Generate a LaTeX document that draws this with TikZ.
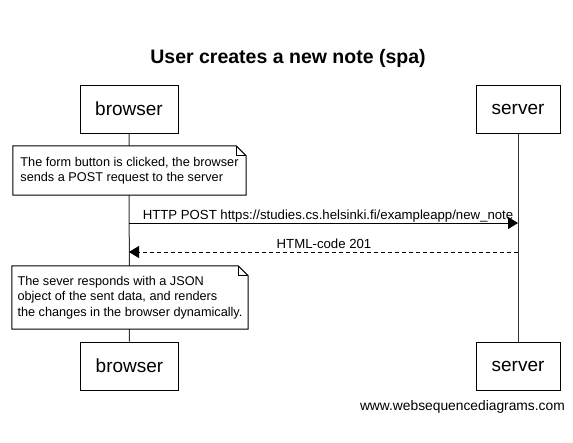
\documentclass[tikz,border=0pt]{standalone}
\usepackage{fontspec}
\setmainfont{Liberation Sans}
\usetikzlibrary{arrows.meta}
\tikzset{
  actor/.style={draw=black, line width=1pt, fill=white, minimum width=98pt, minimum height=48pt, inner sep=0pt, font=\fontsize{19}{22}\selectfont},
  notebox/.style={draw=none, fill=white, inner sep=0pt, align=left, font=\fontsize{12.7}{15.3}\selectfont},
  lifeline/.style={line width=1pt, draw=black!80},
  msg/.style={line width=1pt, -{Triangle[length=10pt,width=12pt]}},
  reply/.style={line width=1pt, dash pattern=on 4pt off 3pt, -{Triangle[length=10pt,width=12pt]}},
  lbl/.style={font=\fontsize{13.2}{15}\selectfont, anchor=base, inner sep=0pt},
}
\begin{document}
\begin{tikzpicture}[x=1pt,y=-1pt]
\useasboundingbox[fill=white] (0,0) rectangle (573,442);
\node[font=\bfseries\fontsize{19.5}{23}\selectfont, anchor=base] (title) at (288,63.5) {User creates a new note (spa)};
% actors
\node[actor] (bt) at (129,109) {browser};
\node[actor, minimum width=84pt] (st) at (518,109) {server};
\node[actor] (bb) at (129.5,366) {browser};
\node[actor, minimum width=84pt] (sb) at (518,366) {server};
% lifelines
\draw[lifeline] (bt.south) -- (bb.north);
\draw[lifeline] (st.south) -- (sb.north);
% note 1
\node[notebox, minimum width=233pt, minimum height=49pt] (n1) at (129.5,170.5)
  {The form button is clicked, the browser\\sends a POST request to the server};
\draw[line width=1pt, fill=white] (n1.south west) -- (n1.north west) -- ([xshift=-10pt]n1.north east) -- ([yshift=-10pt]n1.north east) -- (n1.south east) -- cycle;
\draw[line width=1pt] ([xshift=-10pt]n1.north east) -- ([xshift=-10pt,yshift=-10pt]n1.north east) -- ([yshift=-10pt]n1.north east);
\node[notebox, minimum width=233pt, minimum height=49pt, fill=none] at (n1.center)
  {The form button is clicked, the browser\\sends a POST request to the server};
% messages
\coordinate (m1a) at (bt.south |- 0,223);
\coordinate (m1b) at (st.south |- 0,223);
\draw[msg] (m1a) -- (m1b);
\node[lbl] (l1) at (328,219) {HTTP POST https://studies.cs.helsinki.fi/exampleapp/new\_note};
\coordinate (m2a) at (st.south |- 0,252);
\coordinate (m2b) at (bt.south |- 0,252);
\draw[reply] (m2a) -- (m2b);
\node[lbl] (l2) at (324,248) {HTML-code 201};
% note 2
\node[notebox, minimum width=236pt, minimum height=63pt] (n2) at (130,297.5)
  {The sever responds with a JSON\\object of the sent data, and renders\\the changes in the browser dynamically.};
\draw[line width=1pt, fill=white] (n2.south west) -- (n2.north west) -- ([xshift=-10pt]n2.north east) -- ([yshift=-10pt]n2.north east) -- (n2.south east) -- cycle;
\draw[line width=1pt] ([xshift=-10pt]n2.north east) -- ([xshift=-10pt,yshift=-10pt]n2.north east) -- ([yshift=-10pt]n2.north east);
\node[notebox, minimum width=236pt, minimum height=63pt, fill=none] at (n2.center)
  {The sever responds with a JSON\\object of the sent data, and renders\\the changes in the browser dynamically.};
% watermark
\node[font=\fontsize{13.8}{16}\selectfont, anchor=base east, inner sep=0pt] (wm) at (565,410) {www.websequencediagrams.com};
\end{tikzpicture}
\end{document}
